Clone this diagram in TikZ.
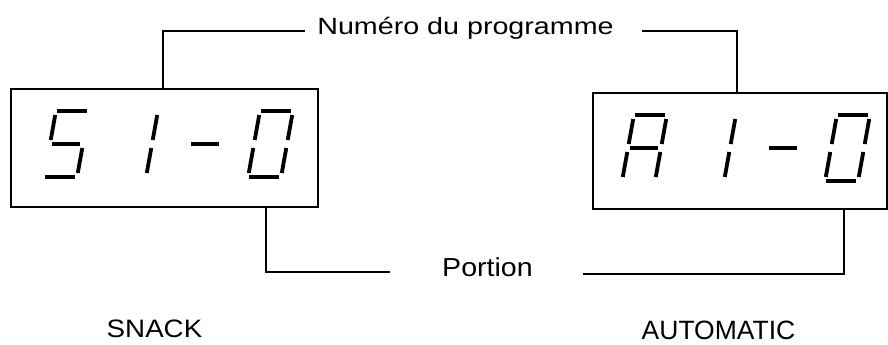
\documentclass[tikz,border=0pt]{standalone}
\usepackage{fontspec}
\setmainfont{Liberation Sans}
\usepackage{graphicx}
\newcommand\segA{\draw[seg] (1,-33) -- (31,-33);}
\newcommand\segB{\draw[seg] (33,-29) -- (33,-4);}
\newcommand\segC{\draw[seg] (33,4) -- (33,29);}
\newcommand\segD{\draw[seg] (1,33) -- (31,33);}
\newcommand\segE{\draw[seg] (0,4) -- (0,29);}
\newcommand\segF{\draw[seg] (0,-29) -- (0,-4);}
\newcommand\segG{\draw[seg] (2,0) -- (30,0);}
\newcommand\sevseg[3]{\begin{scope}[shift={(#1,#2)}, xslant=0.18] #3 \end{scope}}
\begin{document}
\begin{tikzpicture}[x=1pt,y=-1pt,
  dispbox/.style={draw, line width=2.7pt, inner sep=0pt},
  conn/.style={draw, line width=1.3pt},
  seg/.style={line width=3.8pt, line cap=butt},
  lbl/.style={inner sep=0pt, anchor=base}]
\useasboundingbox (0,0) rectangle (888,345);

% display boxes
\node[dispbox, minimum width=307pt, minimum height=118pt] (snack) at (164.5,148) {};
\node[dispbox, minimum width=294pt, minimum height=116pt] (auto) at (740,151) {};

% left display: 5 1 - 0
\sevseg{50}{144}{\segA\segF\segG\segC\segD}
\sevseg{119}{144}{\segB\segC}
\sevseg{189}{144}{\segG}
\sevseg{254}{144}{\segA\segB\segC\segD\segE\segF}

% right display: A 1 - 0
\sevseg{628}{148}{\segA\segB\segC\segE\segF\segG}
\sevseg{697}{148}{\segB\segC}
\sevseg{767}{148}{\segG}
\sevseg{831}{148}{\segA\segB\segC\segD\segE\segF}

% labels
\node[lbl] (num) at (465.5,34.5) {\fontsize{23.5}{28}\selectfont\scalebox{1.22}[1]{Numéro du programme}};
\node[lbl] (portion) at (487.5,276) {\fontsize{26}{30}\selectfont\scalebox{1.1}[1]{Portion}};
\node[lbl] (snacklbl) at (154.5,337) {\fontsize{25.2}{30}\selectfont\scalebox{1.1}[1]{SNACK}};
\node[lbl] (autolbl) at (718.5,339) {\fontsize{26.5}{30}\selectfont AUTOMATIC};

% connectors
\coordinate (tlk) at (163,31);
\coordinate (tle) at (305,31);
\coordinate (trs) at (642,31);
\coordinate (trk) at (737,31);
\coordinate (blk) at (266,272);
\coordinate (ble) at (390,272);
\coordinate (brs) at (583,274);
\coordinate (brk) at (844,274);
\draw[conn] (snack.north -| tlk) -- (tlk) -- (tle);
\draw[conn] (trs) -- (trk) -- (auto.north -| trk);
\draw[conn] (snack.south -| blk) -- (blk) -- (ble);
\draw[conn] (brs) -- (brk) -- (auto.south -| brk);
\end{tikzpicture}
\end{document}
